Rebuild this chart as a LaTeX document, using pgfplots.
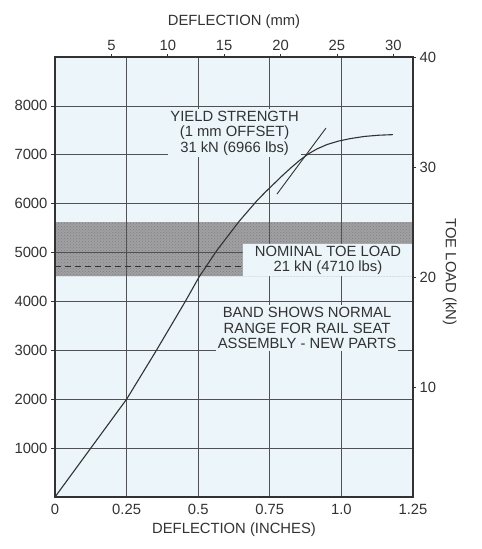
\documentclass[border=0pt]{standalone}
\usepackage{fontspec}
\setmainfont{Liberation Sans}
\usepackage{pgfplots}
\pgfplotsset{compat=1.18}
\usetikzlibrary{patterns}
\definecolor{bg}{RGB}{236,246,250}
\definecolor{ink}{RGB}{50,50,50}
\definecolor{band}{RGB}{160,160,162}
\newcommand{\lblfont}{\fontsize{14.8}{15.5}\selectfont}
\begin{document}
\begin{tikzpicture}
\begin{axis}[
  name=main,
  scale only axis, width=358pt, height=440pt,
  xmin=0, xmax=1.25, ymin=0, ymax=9000,
  axis background/.style={fill=bg},
  axis on top,
  axis line style={ink, line width=1.2pt},
  xtick={0,0.25,0.5,0.75,1,1.25},
  xticklabels={0,0.25,0.5,0.75,1.0,1.25},
  ytick={1000,2000,3000,4000,5000,6000,7000,8000},
  yticklabels={1000,2000,3000,4000,5000,6000,7000,8000},
  xtick pos=bottom, ytick pos=left,
  xtick style={draw=none},
  ytick style={ink, line width=0.7pt},
  tick align=outside, major tick length=4pt,
  grid=major, major grid style={ink!85, line width=0.75pt},
  ticklabel style={font=\lblfont, text=ink},
  /pgf/number format/assume math mode=true,
  xlabel={DEFLECTION (INCHES)},
  xlabel style={font=\lblfont, text=ink, yshift=-1pt},
]
\coordinate (SW) at (rel axis cs:0,0);
\coordinate (NE) at (rel axis cs:1,1);
\addplot[draw=none, fill=band] coordinates {(0,4520) (1.25,4520) (1.25,5620) (0,5620) (0,4520)};
\addplot[draw=none, pattern=crosshatch dots, pattern color=black!50] coordinates {(0,4520) (1.25,4520) (1.25,5620) (0,5620) (0,4520)};
\end{axis}
\begin{axis}[
  at={(main.south west)}, anchor=south west,
  scale only axis, width=358pt, height=440pt,
  xmin=0, xmax=1.25, ymin=0, ymax=9000,
  axis x line*=top, axis y line*=right,
  axis on top,
  axis line style={ink, line width=1.2pt, -},
  xtick={0.19685,0.3937,0.59055,0.7874,0.98425,1.1811},
  xticklabels={5,10,15,20,25,30},
  ytick={2248.1,4496.2,6744.3,8992.4},
  yticklabels={10,20,30,40},
  tick align=outside, major tick length=3pt,
  tick style={ink, line width=0.7pt},
  ticklabel style={font=\lblfont, text=ink},
  /pgf/number format/assume math mode=true,
  xlabel={DEFLECTION (mm)},
  xlabel style={font=\lblfont, text=ink, yshift=5pt},
  ylabel={TOE LOAD (kN)},
  ylabel style={font=\lblfont, text=ink, rotate=180, xshift=-5pt},
  clip=false,
]
% nominal label box
\addplot[draw=none, fill=bg] coordinates {(0.656,4520) (1.246,4520) (1.246,5180) (0.656,5180) (0.656,4520)};
% nominal toe load dashed line
\addplot[ink, line width=0.9pt, dash pattern=on 6pt off 4pt] coordinates {(0,4710) (0.656,4710)};
% load-deflection curve
\addplot[ink, line width=1.1pt] coordinates {
  (0,0) (0.125,1000) (0.25,2000) (0.35,2960) (0.455,4000) (0.503,4500)
  (0.566,5050) (0.643,5640) (0.705,6060) (0.735,6240) (0.765,6410)
  (0.795,6580) (0.825,6740) (0.855,6890) (0.885,7020) (0.915,7120)
  (0.95,7210) (0.99,7280) (1.03,7330) (1.08,7375) (1.13,7400) (1.18,7412)};
% 1 mm offset line
\addplot[ink, line width=0.9pt] coordinates {(0.775,6196) (0.946,7546)};
% annotations
\node[fill=bg, inner sep=2pt, align=center, font=\lblfont, text=ink] at (axis cs:0.627,7444)
  {YIELD STRENGTH\\(1 mm OFFSET)\\31 kN (6966 lbs)};
\node[align=center, font=\lblfont, text=ink] at (axis cs:0.953,4840)
  {NOMINAL TOE LOAD\\21 kN (4710 lbs)};
\node[fill=bg, inner sep=2pt, align=center, font=\lblfont, text=ink] at (axis cs:0.88,3456)
  {BAND SHOWS NORMAL\\RANGE FOR RAIL SEAT\\ASSEMBLY - NEW PARTS};
\end{axis}
\pgfresetboundingbox
\path ([shift={(-55pt,-52pt)}]SW) rectangle ([shift={(68pt,57pt)}]NE);
\end{tikzpicture}
\end{document}
